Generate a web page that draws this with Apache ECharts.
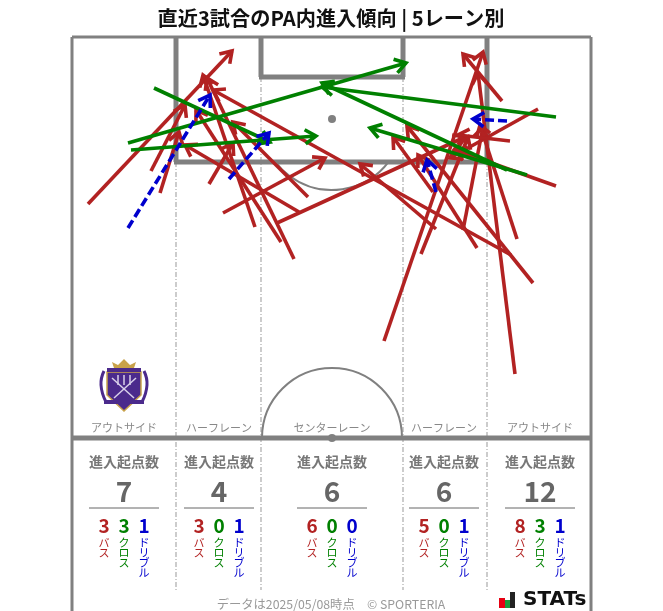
<!DOCTYPE html>
<html>
<head>
<meta charset="utf-8">
<style>html,body{margin:0;padding:0;background:#fff}#chart{width:663px;height:611px}</style>
<script src="https://cdn.jsdelivr.net/npm/echarts@6/dist/echarts.min.js"></script>
</head>
<body>
<div id="chart"></div>
<script>
// レーン別の集計
var laneNames = ['アウトサイド', 'ハーフレーン', 'センターレーン', 'ハーフレーン', 'アウトサイド'];
var laneTotals = [7, 4, 6, 6, 12];
var passCounts = [3, 3, 6, 5, 8];
var crossCounts = [3, 0, 0, 0, 3];
var dribbleCounts = [1, 1, 0, 1, 1];

// 矢印 [始点x, 始点y, 終点x, 終点y] 画像から読み取り
var passArrows = [
    [88, 204, 232, 51], [151, 171, 185, 105], [160, 193, 179, 132],
    [209, 184, 233, 143], [223, 213, 325, 158], [255, 227, 203, 75],
    [281, 242, 196, 110], [294, 259, 207, 78], [308, 197, 233, 122],
    [299, 212, 185, 145], [277, 223, 465, 137], [384, 341, 483, 52],
    [421, 254, 468, 137], [436, 229, 360, 164], [433, 192, 393, 137],
    [477, 248, 418, 155], [463, 230, 483, 127], [511, 255, 213, 90],
    [533, 283, 407, 126], [515, 374, 478, 73], [517, 239, 480, 125],
    [538, 109, 450, 158], [556, 186, 455, 150], [510, 141, 458, 135],
    [502, 101, 463, 54]
];
var crossArrows = [
    [128, 143, 406, 63], [131, 150, 316, 136], [154, 88, 270, 142],
    [556, 117, 322, 87], [527, 175, 370, 128], [507, 170, 322, 83]
];
var dribbleArrows = [
    [128, 228, 210, 95], [229, 179, 269, 133], [507, 121, 473, 119], [436, 192, 427, 160]
];

// ピッチの線 [x0, y0, x1, y1, 太さ]
var pitchLines = [
    [72, 37, 591, 37, 3], [72, 37, 72, 611, 3], [591, 37, 591, 611, 3],
    [72, 438, 591, 438, 5],
    [176, 37, 176, 162, 5], [487, 37, 487, 162, 5], [174, 162, 489, 162, 5],
    [261, 37, 261, 77, 5], [403, 37, 403, 77, 5], [259, 77, 405, 77, 5]
];
var laneLines = [
    [176, 162, 176, 590], [261, 77, 261, 590], [403, 77, 403, 590], [487, 162, 487, 590]
];
// [cx, cy, r, 開始角, 終了角]
var pitchArcs = [
    [332, 119, 71, 0.64, 2.5],
    [332, 438, 70, Math.PI, Math.PI * 2]
];
var pitchSpots = [[332, 119], [332, 438]];

var laneCenters = [124, 219, 332, 444, 540];
var FONT = '"Noto Sans CJK JP", "Noto Sans", sans-serif';

var renderArrow = function (color, dash) {
    return function (params, api) {
        var from = api.coord([api.value(0), api.value(1)]);
        var to = api.coord([api.value(2), api.value(3)]);
        var angle = Math.atan2(to[1] - from[1], to[0] - from[0]);
        var len = 13, spread = 0.58;
        var headA = [to[0] - len * Math.cos(angle - spread), to[1] - len * Math.sin(angle - spread)];
        var headB = [to[0] - len * Math.cos(angle + spread), to[1] - len * Math.sin(angle + spread)];
        return {
            type: 'group',
            children: [{
                type: 'line',
                shape: { x1: from[0], y1: from[1], x2: to[0], y2: to[1] },
                style: { stroke: color, lineWidth: 3.6, lineDash: dash, fill: null }
            }, {
                type: 'polyline',
                shape: { points: [headA, to, headB] },
                style: { stroke: color, lineWidth: 3.6, fill: null }
            }]
        };
    };
};

var renderPitchLine = function (params, api) {
    var a = api.coord([api.value(0), api.value(1)]);
    var b = api.coord([api.value(2), api.value(3)]);
    return {
        type: 'line',
        shape: { x1: a[0], y1: a[1], x2: b[0], y2: b[1] },
        style: { stroke: '#808080', lineWidth: api.value(4) }
    };
};
var renderLaneLine = function (params, api) {
    var a = api.coord([api.value(0), api.value(1)]);
    var b = api.coord([api.value(2), api.value(3)]);
    return {
        type: 'line',
        shape: { x1: a[0], y1: a[1], x2: b[0], y2: b[1] },
        style: { stroke: '#999', lineWidth: 1, lineDash: [5, 2, 1, 2] }
    };
};
var renderArc = function (params, api) {
    var c = api.coord([api.value(0), api.value(1)]);
    return {
        type: 'arc',
        shape: { cx: c[0], cy: c[1], r: api.value(2), startAngle: api.value(3), endAngle: api.value(4) },
        style: { stroke: '#808080', lineWidth: 2, fill: null }
    };
};
var renderSpot = function (params, api) {
    var c = api.coord([api.value(0), api.value(1)]);
    return { type: 'circle', shape: { cx: c[0], cy: c[1], r: 4 }, style: { fill: '#808080' } };
};

var customSeries = function (data, render, dims) {
    return {
        type: 'custom',
        coordinateSystem: 'cartesian2d',
        data: data,
        renderItem: render,
        silent: true,
        clip: false,
        encode: { x: dims[0], y: dims[1] }
    };
};

var text = function (str, x, y, size, color, bold, extra) {
    var style = {
        text: str, x: x, y: y, fill: color,
        font: (bold ? 'bold ' : '') + size + 'px ' + FONT,
        textAlign: 'center', textVerticalAlign: 'middle'
    };
    if (extra) { Object.assign(style, extra); }
    return { type: 'text', silent: true, style: style };
};

// レーンごとの文字
var buildLaneTexts = function () {
    var out = [];
    laneCenters.forEach(function (cx, i) {
        out.push(text(laneNames[i], cx, 428, 11, '#888', false));
        out.push(text('進入起点数', cx, 462, 14, '#777', true));
        out.push(text(String(laneTotals[i]), cx, 491, 28, '#666', true));
        out.push({ type: 'line', silent: true, shape: { x1: cx - 35, y1: 508, x2: cx + 35, y2: 508 }, style: { stroke: '#666', lineWidth: 1 } });
        var groups = [
            [passCounts[i], 'バ\nス', '#b22222', -20],
            [crossCounts[i], 'ク\nロ\nス', '#008000', 0],
            [dribbleCounts[i], 'ド\nリ\nブ\nル', '#0000cd', 20]
        ];
        groups.forEach(function (g) {
            out.push(text(String(g[0]), cx + g[3], 526, 19, g[2], true));
            out.push(text(g[1], cx + g[3], 538, 11, g[2], false, { textVerticalAlign: 'top', lineHeight: 10 }));
        });
    });
    return out;
};

// サンフレッチェ風のエンブレム
var buildBadge = function () {
    var purple = '#4b2a8c', gold = '#c9a24a', pale = '#d8d0ea';
    return [
        { type: 'polyline', silent: true, smooth: 0.5, shape: { points: [[104, 371], [101, 385], [106, 402]], smooth: 0.5 }, style: { stroke: purple, lineWidth: 3, fill: null } },
        { type: 'polyline', silent: true, shape: { points: [[144, 371], [147, 385], [142, 402]], smooth: 0.5 }, style: { stroke: purple, lineWidth: 3, fill: null } },
        { type: 'polygon', silent: true, shape: { points: [[107, 372], [141, 372], [141, 395], [124, 411], [107, 395]] }, style: { fill: purple, stroke: gold, lineWidth: 1.5 } },
        { type: 'rect', silent: true, shape: { x: 107, y: 368, width: 34, height: 4 }, style: { fill: purple } },
        { type: 'polygon', silent: true, shape: { points: [[114, 368], [112, 362], [118, 365], [124, 359], [130, 365], [136, 362], [134, 368]] }, style: { fill: gold } },
        { type: 'polyline', silent: true, shape: { points: [[118, 375], [118, 385]] }, style: { stroke: pale, lineWidth: 1.5, fill: null } },
        { type: 'polyline', silent: true, shape: { points: [[124, 375], [124, 385]] }, style: { stroke: pale, lineWidth: 1.5, fill: null } },
        { type: 'polyline', silent: true, shape: { points: [[130, 375], [130, 385]] }, style: { stroke: pale, lineWidth: 1.5, fill: null } },
        { type: 'polyline', silent: true, shape: { points: [[112, 378], [134, 398]] }, style: { stroke: pale, lineWidth: 1.5, fill: null } },
        { type: 'polyline', silent: true, shape: { points: [[136, 378], [114, 398]] }, style: { stroke: pale, lineWidth: 1.5, fill: null } },
        { type: 'rect', silent: true, shape: { x: 104, y: 400, width: 40, height: 4 }, style: { fill: purple } }
    ];
};

var buildStatsLogo = function () {
    return [
        { type: 'rect', silent: true, shape: { x: 499, y: 598, width: 6, height: 10 }, style: { fill: '#e60012' } },
        { type: 'rect', silent: true, shape: { x: 505, y: 600, width: 5, height: 8 }, style: { fill: '#1a9a3c' } },
        { type: 'rect', silent: true, shape: { x: 510, y: 592, width: 5, height: 16 }, style: { fill: '#222' } },
        { type: 'text', silent: true, style: { text: 'STATs', x: 523, y: 600, fill: '#111', font: 'bold 20px "DejaVu Sans", sans-serif', textAlign: 'left', textVerticalAlign: 'middle' } }
    ];
};

var myCharts = echarts.init(document.getElementById('chart'), null, { renderer: 'canvas' });

var graphicItems = [
    text('直近3試合のPA内進入傾向 | 5レーン別', 331, 18, 20.2, '#111', true),
    text('データは2025/05/08時点\u3000© SPORTERIA', 331, 604, 12.3, '#999', false)
].concat(buildLaneTexts(), buildBadge(), buildStatsLogo());

myCharts.setOption({
    animation: false,
    backgroundColor: '#fff',
    grid: { left: 0, right: 0, top: 0, bottom: 0 },
    xAxis: { type: 'value', min: 0, max: 663, show: false },
    yAxis: { type: 'value', min: 0, max: 611, inverse: true, show: false },
    graphic: graphicItems,
    series: [
        customSeries(laneLines, renderLaneLine, [0, 1]),
        customSeries(pitchArcs, renderArc, [0, 1]),
        customSeries(pitchLines, renderPitchLine, [0, 1]),
        customSeries(pitchSpots, renderSpot, [0, 1]),
        customSeries(passArrows, renderArrow('#b22222', null), [0, 1]),
        customSeries(crossArrows, renderArrow('#008000', null), [0, 1]),
        customSeries(dribbleArrows, renderArrow('#0000cd', [9, 4]), [0, 1])
    ]
});
</script>
</body>
</html>
